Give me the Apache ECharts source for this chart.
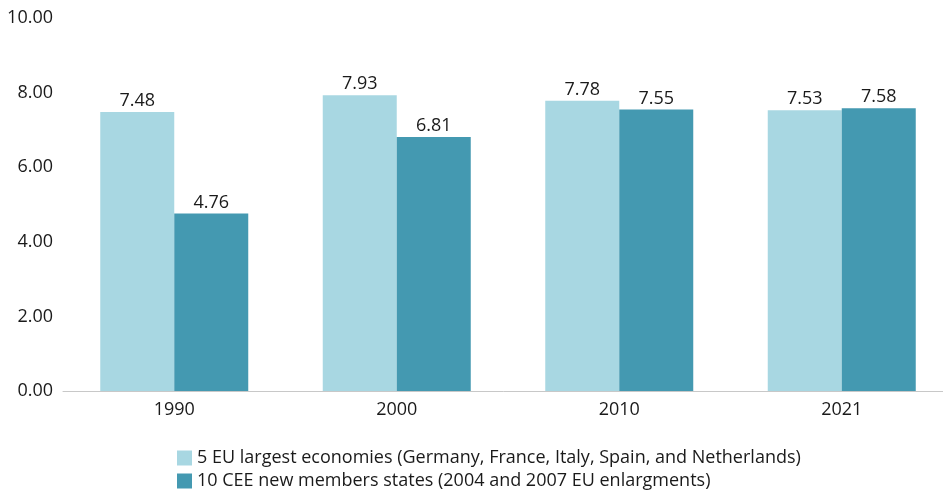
<!DOCTYPE html>
<html>
<head>
<meta charset="utf-8">
<script src="https://cdn.jsdelivr.net/npm/echarts@6/dist/echarts.min.js"></script>
<style>
  html, body { margin: 0; padding: 0; background: #fff; }
  #chart { width: 943px; height: 490px; }
</style>
</head>
<body>
<div id="chart"></div>
<script>
var years = ['1990', '2000', '2010', '2021'];
var largest5 = [7.48, 7.93, 7.78, 7.53];
var cee10 = [4.76, 6.81, 7.55, 7.58];
var seriesNames = [
    '5 EU largest economies (Germany, France, Italy, Spain, and Netherlands)',
    '10 CEE new members states (2004 and 2007 EU enlargments)'
];

var chart = echarts.init(document.getElementById('chart'));
var font = 'Open Sans';

var labelStyle = {
    show: true,
    position: 'top',
    distance: 2,
    color: '#1a1a1a',
    fontFamily: font,
    fontSize: 18,
    formatter: function (p) { return p.value.toFixed(2); }
};

// one legend per row so they stack like the reference
var legendRow = function (name, top) {
    return {
        orient: 'horizontal',
        left: 172,
        top: top,
        itemWidth: 15,
        itemHeight: 15,
        itemGap: 0,
        icon: 'rect',
        textStyle: { fontFamily: font, fontSize: 18, color: '#1a1a1a' },
        data: [name]
    };
};

chart.setOption({
    animation: false,
    textStyle: { fontFamily: font },
    grid: { left: 63, right: -10, top: 18, bottom: 99, outerBoundsMode: 'none' },
    legend: [
        legendRow(seriesNames[0], 444),
        legendRow(seriesNames[1], 467)
    ],
    xAxis: {
        type: 'category',
        data: years,
        axisLine: { lineStyle: { color: '#c8c8c8' } },
        axisTick: { show: false },
        axisLabel: { color: '#1a1a1a', fontSize: 18, fontFamily: font, margin: 10 }
    },
    yAxis: {
        type: 'value',
        min: 0,
        max: 10,
        interval: 2,
        splitLine: { show: false },
        axisLine: { show: false },
        axisTick: { show: false },
        axisLabel: {
            color: '#1a1a1a',
            fontSize: 18,
            fontFamily: font,
            margin: 10,
            formatter: function (v) { return v.toFixed(2); }
        }
    },
    series: [
        {
            name: seriesNames[0],
            type: 'bar',
            data: largest5,
            barWidth: 74,
            barGap: '0%',
            itemStyle: { color: '#a8d7e2' },
            label: labelStyle
        },
        {
            name: seriesNames[1],
            type: 'bar',
            data: cee10,
            barWidth: 74,
            itemStyle: { color: '#4499b1' },
            label: labelStyle
        }
    ]
});
</script>
</body>
</html>
